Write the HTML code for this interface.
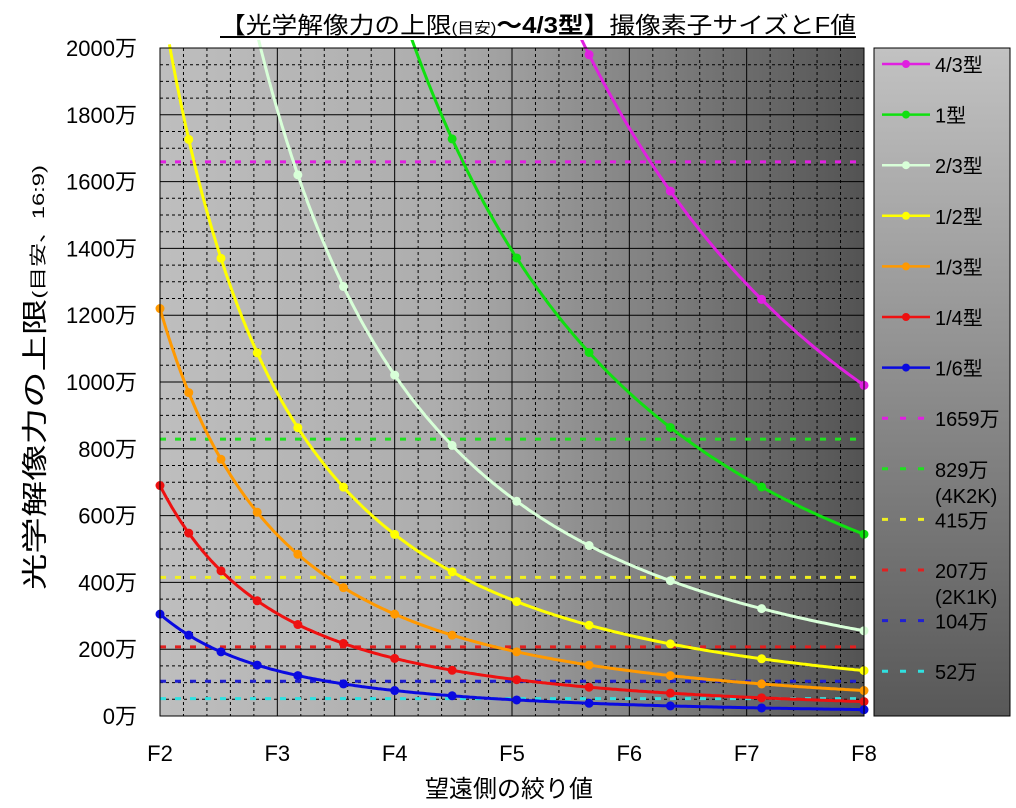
<!DOCTYPE html>
<html><head><meta charset="utf-8">
<style>
body{margin:0;background:#fff;width:1016px;height:808px;overflow:hidden;font-family:"Liberation Sans","Noto Sans CJK JP",sans-serif;}
svg{display:block}
text{font-family:"Liberation Sans","Noto Sans CJK JP",sans-serif;fill:#000}
</style></head><body>
<svg id="s" width="1016" height="808" xmlns="http://www.w3.org/2000/svg">
<defs>
<linearGradient id="pg" x1="0" y1="0" x2="1" y2="0"><stop offset="0" stop-color="#bebebe"/><stop offset="0.4" stop-color="#adadad"/><stop offset="1" stop-color="#535353"/></linearGradient>
<linearGradient id="lg" x1="0" y1="0" x2="0" y2="1"><stop offset="0" stop-color="#c2c2c2"/><stop offset="1" stop-color="#585858"/></linearGradient>
</defs>
<rect x="160" y="48" width="704" height="668" fill="url(#pg)"/>
<g id="grid"></g>
<g id="ser"></g>
<rect x="160" y="48" width="704" height="668" fill="none" stroke="#000" stroke-width="1"/>
<rect x="874" y="48" width="136" height="668" fill="url(#lg)" stroke="#000"/>
<g id="leg"></g>
<g id="ax" font-size="22"></g>
<text x="220" y="33" font-size="23" textLength="636" lengthAdjust="spacingAndGlyphs">【光学解像力の上限<tspan font-size="15">(目安)</tspan><tspan font-weight="bold">〜4/3型】</tspan>撮像素子サイズとF値</text>
<line x1="220" y1="37" x2="856" y2="37" stroke="#000" stroke-width="2"/>
<text x="0" y="0" transform="translate(44,590) rotate(-90)" font-size="26" textLength="425" lengthAdjust="spacingAndGlyphs">光学解像力の上限<tspan font-size="17">(目安、16:9)</tspan></text>
<text x="509" y="797" text-anchor="middle" font-size="24">望遠側の絞り値</text>
</svg>
<script>
var NS="http://www.w3.org/2000/svg";
function el(p,t,a,txt){var e=document.createElementNS(NS,t);for(var k in a)e.setAttribute(k,a[k]);if(txt)e.textContent=txt;document.getElementById(p).appendChild(e);return e;}
var X0=160,X1=864,Y0=716,Y1=48;
function X(f){return X0+(f-2)*(X1-X0)/6;}
function Y(v){return Y0-v*(Y0-Y1)/2000;}
for(var i=1;i<30;i++){var x=X0+i*(X1-X0)/30;el("grid","line",{x1:x,y1:Y1,x2:x,y2:Y0,stroke:"#000","stroke-width":1,"stroke-dasharray":i%5?"3,3":"none"});}
for(var i=1;i<40;i++){var y=Y0-i*(Y0-Y1)/40;el("grid","line",{x1:X0,y1:y,x2:X1,y2:y,stroke:"#000","stroke-width":1,"stroke-dasharray":i%4?"3,3":"none"});}
var hl=[[1659,"#e020e0"],[829,"#20e020"],[415,"#f0f020"],[207,"#e02020"],[104,"#2020d0"],[52,"#30e0e0"]];
hl.forEach(function(h){el("ser","line",{x1:X0,y1:Y(h[0]),x2:X1,y2:Y(h[0]),stroke:h[1],"stroke-width":3,"stroke-dasharray":"6,9"});});
var S=[[63360,"#e020e0"],[34830,"#10e010"],[16330,"#d8ffd8"],[8700,"#ffff00"],[4880,"#ff9900"],[2760,"#ee1111"],[1220,"#0a0ae0"]];
var stops=[];for(var i=0;i<=12;i++)stops.push(Math.pow(2,1+i/6));
el("ser","clipPath",{id:"cp"});
var cr=document.createElementNS(NS,"rect");cr.setAttribute("x",X0-10);cr.setAttribute("y",Y1-8);cr.setAttribute("width",X1-X0+20);cr.setAttribute("height",Y0-Y1+20);document.getElementById("cp").appendChild(cr);
S.forEach(function(s){var d="";for(var f=2;f<=8.0001;f+=0.02){var v=s[0]/(f*f);if(v>2050)continue;d+=(d?"L":"M")+X(f).toFixed(1)+","+Y(v).toFixed(1);}
el("ser","path",{d:d,fill:"none",stroke:s[1],"stroke-width":3,"clip-path":"url(#cp)"});
stops.forEach(function(f){var v=s[0]/(f*f);if(v<=2000)el("ser","circle",{cx:X(f),cy:Y(v),r:4.5,fill:s[1]});});});
for(var v=0;v<=2000;v+=200)el("ax","text",{x:137,y:Y(v)+8,"text-anchor":"end"},v+"万");
for(var f=2;f<=8;f++)el("ax","text",{x:X(f),y:761,"text-anchor":"middle"},"F"+f);
var L=[["4/3型","#e020e0",0],["1型","#10e010",0],["2/3型","#d8ffd8",0],["1/2型","#ffff00",0],["1/3型","#ff9900",0],["1/4型","#ee1111",0],["1/6型","#0a0ae0",0],
["1659万","#e020e0",1],["829万","#20e020",1,"(4K2K)"],["415万","#f0f020",1],["207万","#e02020",1,"(2K1K)"],["104万","#2020d0",1],["52万","#30e0e0",1]];
L.forEach(function(l,i){var y=64+i*50.6;
if(l[2]){el("leg","line",{x1:882,y1:y,x2:930,y2:y,stroke:l[1],"stroke-width":3,"stroke-dasharray":"6,12"});}
else{el("leg","line",{x1:882,y1:y,x2:930,y2:y,stroke:l[1],"stroke-width":2.5});el("leg","circle",{cx:906,cy:y,r:4,fill:l[1]});}
el("leg","text",{x:935,y:y+8,"font-size":20},l[0]);
if(l[3])el("leg","text",{x:935,y:y+34,"font-size":20},l[3]);});
</script>
</body></html>
